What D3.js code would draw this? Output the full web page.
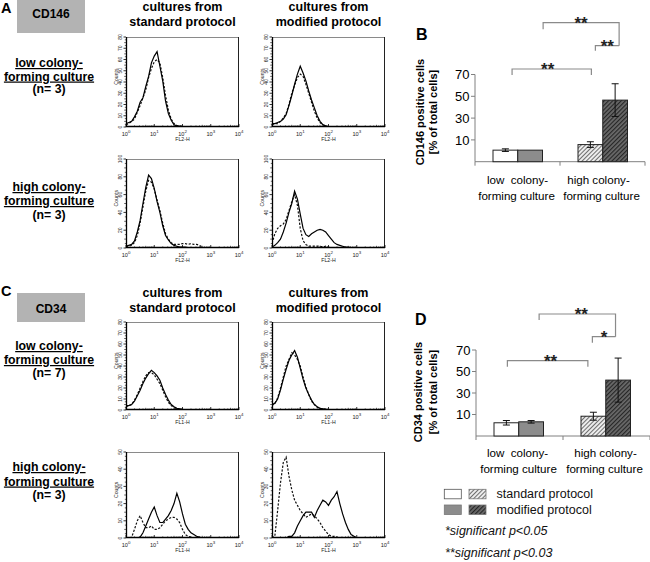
<!DOCTYPE html>
<html><head><meta charset="utf-8">
<script src="https://cdn.jsdelivr.net/npm/d3@7"></script>
<style>
body{margin:0;background:#fff}
svg{display:block}
text{font-family:"Liberation Sans",Arial,Helvetica,sans-serif}
</style>
</head><body>
<svg id="c" width="650" height="562"></svg>
<script>
// ---------- DATA ----------
// flow cytometry histograms: x in decades (log10 of fluorescence), y = counts
const logGrid = [0,0.1,0.2,0.3,0.4,0.5,0.6,0.7,0.8,0.9,1.0,1.1,1.2,1.3,1.4,1.5,1.6,1.7,1.8,1.9,2.0,
                 2.1,2.2,2.3,2.4,2.5,2.6,2.7,2.8,2.9,3.0,3.1,3.2,3.3,3.4,3.5,3.6,3.7,3.8,3.9,4.0];
const decadeTicks = [0,1,2,3,4];

// CD146, low colony-forming culture
const A1_std_solid = [3,4,5,9,14,22,26,36,45,57,63,67,54,41,23,12,6,2,1,0.5,0];
const A1_std_dash  = [2,3,5,7,13,19,26,33,44,52,58,60,57,44,28,15,7,3,1.5,1,0.5,0];
const A1_mod_solid = [3,3,4,5,7,11,19,28,38,47,54,48,41,32,24,17,10,5,2,1,0];
const A1_mod_dash  = [2,3,3,5,8,12,20,30,37,44,47,45,38,30,22,14,8,4,2,1,0];
// CD146, high colony-forming culture
const A2_std_solid = [2,3,4,8,18,31,50,68,82,78,67,52,40,25,14,9,5,3,2,1,1,1,0.5,0];
const A2_std_dash  = [1,2,3,6,14,28,46,64,76,74,66,54,42,28,16,10,6,4,4,4,5,5,4,5,4,4,3,1,0];
const A2_mod_solid = [1,3,6,10,18,28,40,50,64,55,38,22,15,13,16,18,20,21,20,18,14,10,6,4,3,2,1,1,0.5,0];
const A2_mod_dash  = [5,16,22,25,27,32,42,52,60,48,22,8,4,2,2,2,2,2,1,2,1,0.5,0];
// CD34, low colony-forming culture
const C1_std_solid = [4,4,5,8,13,18,24,29,33,36,34,31,27,20,14,9,5,3,1.5,1,0.5,0];
const C1_std_dash  = [3,4,5,9,14,20,26,31,34,34,32,28,24,18,12,7,4,2,1,0.5,0];
const C1_mod_solid = [5,6,10,18,28,37,45,50,54,48,38,28,20,14,9,5,3,1.5,1,0.5,0];
const C1_mod_dash  = [4,6,11,20,30,40,46,52,50,46,40,30,21,14,8,5,2.5,1.5,1,0.5,0];
// CD34, high colony-forming culture
const C2_std_solid = [0,0,0,0,0,0.5,3,7,11,15,18,13,9,9,11,13,16,20,26,21,14,8,5,3,2,1,0.5,0];
const C2_std_dash  = [0,0,0.5,5,10,13,9,6,6,7,5,5,6,8,10,11,12,12,11,9,5,2,1,0.5,0];
const C2_mod_solid = [0,0,0,0,0,0,1,1,3,7,10,13,15,15,15,12,16,19,22,21,19,22,24,27,20,14,9,5,2,1,0];
const C2_mod_dash  = [0,1,16,32,44,47,36,28,22,19,16,14,12,13,14,13,11,9,6,4,2,1,1,0.5,0];

const yTicksA1 = [0,10,20,30,40,50,60,70,80];
const yTicksA2 = [0,20,40,60,80,100];
const yTicksC1 = [0,10,20,30,40,50,60,70,80];
const yTicksC2 = [0,10,20,30,40,50];

// bar charts (% positive cells), values per group [low, high]
const groupLabels = [["low  colony-","forming culture"],["high colony-","forming culture"]];
const protocols = ["standard protocol","modified protocol"];
const cd146Std = [0.6, 5.7],  cd146StdErr = [1.2, 2.6];
const cd146Mod = [0.6, 46.5], cd146ModErr = [0, 15];
const cd34Std  = [2.3, 8.4],  cd34StdErr  = [2.1, 3.7];
const cd34Mod  = [3.2, 42],   cd34ModErr  = [1.2, 20.5];
const barTicks = [10,30,50,70];
const barDomain = [-10,70];
const sigB = ["**","**","**"];
const sigD = ["**","**","*"];
const footnotes = ["*significant p<0.05","**significant p<0.03"];

// ---------- DRAW ----------
const svg = d3.select("#c");
const defs = svg.append("defs");
function hatch(id,bg,fg,sw){
  const p = defs.append("pattern").attr("id",id).attr("patternUnits","userSpaceOnUse")
    .attr("width",3).attr("height",3).attr("patternTransform","rotate(45)");
  p.append("rect").attr("width",3).attr("height",3).attr("fill",bg);
  p.append("line").attr("x1",0.5).attr("y1",0).attr("x2",0.5).attr("y2",3).attr("stroke",fg).attr("stroke-width",sw);
}
hatch("hLight","#ececec","#6e6e6e",1);
hatch("hDark","#6a6a6a","#262626",1.3);
const fills = [["#ffffff","#8c8c8c"],["url(#hLight)","url(#hDark)"]]; // [group][protocol]

// ----- panel letters, gray boxes, column titles, row labels -----
function txt(x,y,s,opt){
  const t = svg.append("text").attr("x",x).attr("y",y).text(s)
    .attr("font-size",opt.fs).attr("text-anchor",opt.anchor||"middle")
    .attr("font-weight",opt.bold?"bold":"normal").attr("fill",opt.fill||"#000");
  if(opt.italic) t.attr("font-style","italic");
  if(opt.underline) t.attr("text-decoration","underline");
  if(opt.pre) t.style("white-space","pre");
  return t;
}
const sections = [
  {letter:"A", ly:13, box:[17,0,68,33], marker:"CD146", my:18,
   t1:11, t2:26,
   rows:[{lines:["low colony-","forming culture","(n= 3)"], ys:[67,80.5,93]},
         {lines:["high colony-","forming culture","(n= 3)"], ys:[191,205,219]}]},
  {letter:"C", ly:296, box:[17,293,68,29], marker:"CD34", my:312.5,
   t1:297, t2:312,
   rows:[{lines:["low colony-","forming culture","(n= 7)"], ys:[350,364,377]},
         {lines:["high colony-","forming culture","(n= 3)"], ys:[471,485.5,499]}]}
];
sections.forEach(s=>{
  txt(1,s.ly,s.letter,{fs:14.5,bold:true,anchor:"start"});
  svg.append("rect").attr("x",s.box[0]).attr("y",s.box[1]).attr("width",s.box[2]).attr("height",s.box[3]).attr("fill","#b3b3b3");
  txt(s.box[0]+s.box[2]/2,s.my,s.marker,{fs:12,bold:true});
  [[182.5,"standard protocol"],[328.5,"modified protocol"]].forEach(([cx,l2])=>{
    txt(cx,s.t1,"cultures from",{fs:12.5,bold:true});
    txt(cx,s.t2,l2,{fs:12.5,bold:true});
  });
  s.rows.forEach(r=>{
    r.lines.forEach((l,i)=>txt(49,r.ys[i],l,{fs:12.3,bold:true,underline:i<2}));
  });
});

// ----- histograms -----
const hists = [
  {x0:126,y0:37, h:90,ticks:yTicksA1,xl:"FL2-H",solid:A1_std_solid,dash:A1_std_dash},
  {x0:272,y0:37, h:90,ticks:yTicksA1,xl:"FL2-H",solid:A1_mod_solid,dash:A1_mod_dash},
  {x0:126,y0:159,h:89,ticks:yTicksA2,xl:"FL2-H",solid:A2_std_solid,dash:A2_std_dash},
  {x0:272,y0:159,h:89,ticks:yTicksA2,xl:"FL2-H",solid:A2_mod_solid,dash:A2_mod_dash},
  {x0:126,y0:322,h:88,ticks:yTicksC1,xl:"FL1-H",solid:C1_std_solid,dash:C1_std_dash},
  {x0:272,y0:322,h:88,ticks:yTicksC1,xl:"FL1-H",solid:C1_mod_solid,dash:C1_mod_dash},
  {x0:126,y0:452,h:86,ticks:yTicksC2,xl:"FL1-H",solid:C2_std_solid,dash:C2_std_dash},
  {x0:272,y0:452,h:86,ticks:yTicksC2,xl:"FL1-H",solid:C2_mod_solid,dash:C2_mod_dash}
];
const HW = 113;
hists.forEach((H,k)=>{
  const g = svg.append("g");
  const x = d3.scaleLog().domain([1,1e4]).range([H.x0,H.x0+HW]);
  const yMax = H.ticks[H.ticks.length-1];
  const y = d3.scaleLinear().domain([0,yMax]).range([H.y0+H.h,H.y0]);
  const yb = H.y0+H.h;
  g.append("line").attr("x1",H.x0).attr("x2",H.x0+HW).attr("y1",H.y0+0.5).attr("y2",H.y0+0.5).attr("stroke","#8a8a8a").attr("stroke-width",1);
  g.append("line").attr("x1",H.x0+HW-0.5).attr("x2",H.x0+HW-0.5).attr("y1",H.y0).attr("y2",yb).attr("stroke","#222").attr("stroke-width",1);
  const cid = "clip"+k;
  defs.append("clipPath").attr("id",cid).append("rect").attr("x",H.x0).attr("y",H.y0-1).attr("width",HW).attr("height",H.h+1);
  const line = d3.line().x((d,i)=>x(Math.pow(10,logGrid[i]))).y(d=>y(d));
  g.append("path").attr("d",line(H.dash)).attr("fill","none").attr("stroke","#111").attr("stroke-width",1.2)
    .attr("stroke-dasharray","2.2,1.6").attr("clip-path",`url(#${cid})`);
  g.append("path").attr("d",line(H.solid)).attr("fill","none").attr("stroke","#000").attr("stroke-width",1.2)
    .attr("clip-path",`url(#${cid})`);
  g.append("line").attr("x1",H.x0+0.5).attr("x2",H.x0+0.5).attr("y1",H.y0).attr("y2",yb).attr("stroke","#000").attr("stroke-width",1.3);
  g.append("line").attr("x1",H.x0).attr("x2",H.x0+HW).attr("y1",yb-0.5).attr("y2",yb-0.5).attr("stroke","#000").attr("stroke-width",1.3);
  const step = H.ticks[1]-H.ticks[0];
  H.ticks.forEach((v,i)=>{
    g.append("line").attr("x1",H.x0-2.5).attr("x2",H.x0).attr("y1",y(v)).attr("y2",y(v)).attr("stroke","#000").attr("stroke-width",0.8);
    if(i<H.ticks.length-1){
      [0.25,0.5,0.75].forEach(f=>{
        const yy=y(v+step*f);
        g.append("line").attr("x1",H.x0-(f===0.5?1.8:1.2)).attr("x2",H.x0).attr("y1",yy).attr("y2",yy).attr("stroke","#000").attr("stroke-width",0.6);
      });
    }
    g.append("text").attr("transform",`translate(${H.x0-4.2},${y(v)}) rotate(-90)`)
      .attr("text-anchor","middle").attr("font-size",5).attr("fill","#222").text(v);
  });
  g.append("text").attr("transform",`translate(${H.x0-8.5},${H.y0+H.h*0.44}) rotate(-90)`)
    .attr("text-anchor","middle").attr("font-size",5.2).attr("fill","#222").text("Counts");
  decadeTicks.forEach(dk=>{
    const xv = x(Math.pow(10,dk));
    g.append("line").attr("x1",xv).attr("x2",xv).attr("y1",yb).attr("y2",yb-3).attr("stroke","#000").attr("stroke-width",0.8);
    if(dk<4){
      [2,3,4,5,6,7,8,9].forEach(m=>{
        const xm = x(m*Math.pow(10,dk));
        g.append("line").attr("x1",xm).attr("x2",xm).attr("y1",yb).attr("y2",yb-(m===5?2.2:1.6)).attr("stroke","#000").attr("stroke-width",0.6);
      });
    }
    const t = g.append("text").attr("x",xv).attr("y",yb+8.6).attr("text-anchor","middle").attr("font-size",5.6).attr("fill","#222");
    t.append("tspan").text("10");
    t.append("tspan").attr("dy",-2.2).attr("font-size",4.4).text(dk);
  });
  g.append("text").attr("x",H.x0+HW/2).attr("y",yb+14.2).attr("text-anchor","middle").attr("font-size",5.2).attr("fill","#222").text(H.xl);
});

// ----- bar charts -----
function barChart(cfg){
  const g = svg.append("g");
  const x = d3.scaleBand().domain([0,1]).range(cfg.xr);
  const xs = d3.scaleBand().domain([0,1]).range([18,67.5]);
  const y = d3.scaleLinear().domain(barDomain).range([cfg.yb,cfg.yt]);
  const base = y(barDomain[0]);
  const axisCol = "#808080";
  g.append("line").attr("x1",cfg.xr[0]).attr("x2",cfg.xr[0]).attr("y1",base).attr("y2",y(barTicks[barTicks.length-1])).attr("stroke",axisCol);
  g.append("line").attr("x1",cfg.xr[0]).attr("x2",cfg.xr[1]).attr("y1",base).attr("y2",base).attr("stroke",axisCol);
  barTicks.forEach(v=>{
    g.append("line").attr("x1",cfg.xr[0]-4).attr("x2",cfg.xr[0]).attr("y1",y(v)).attr("y2",y(v)).attr("stroke",axisCol);
    g.append("text").attr("x",cfg.xr[0]-5.5).attr("y",y(v)+4.6).attr("text-anchor","end").attr("font-size",13).text(v);
  });
  [0,1].forEach(i=>{
    const xx = x(i);
    g.append("line").attr("x1",xx).attr("x2",xx).attr("y1",base).attr("y2",base+4).attr("stroke",axisCol);
  });
  g.append("line").attr("x1",cfg.xr[1]).attr("x2",cfg.xr[1]).attr("y1",base).attr("y2",base+4).attr("stroke",axisCol);
  const series = [[cfg.std,cfg.stdErr],[cfg.mod,cfg.modErr]];
  const centers = [];
  [0,1].forEach(gi=>{
    centers[gi]=[];
    series.forEach(([vals,errs],si)=>{
      const bx = x(gi)+xs(si), bw = xs.bandwidth();
      centers[gi][si] = bx+bw/2;
      g.append("rect").attr("x",bx).attr("y",y(vals[gi])).attr("width",bw).attr("height",base-y(vals[gi]))
        .attr("fill",fills[gi][si]).attr("stroke","#222").attr("stroke-width",1);
    });
  });
  [0,1].forEach(gi=>{
    series.forEach(([vals,errs],si)=>{
      const e = errs[gi]; if(!e) return;
      const cx = centers[gi][si], y1=y(vals[gi]+e), y2=y(vals[gi]-e);
      g.append("line").attr("x1",cx).attr("x2",cx).attr("y1",y1).attr("y2",y2).attr("stroke","#111").attr("stroke-width",1);
      [y1,y2].forEach(yy=>g.append("line").attr("x1",cx-3.5).attr("x2",cx+3.5).attr("y1",yy).attr("y2",yy).attr("stroke","#111").attr("stroke-width",1));
    });
  });
  [0,1].forEach(gi=>{
    const cx = x(gi)+x.bandwidth()/2;
    groupLabels[gi].forEach((l,li)=>{
      g.append("text").attr("x",cx+(cfg.lblDx[gi][li]||0)).attr("y",cfg.lblY[li]).attr("text-anchor","middle")
        .attr("font-size",11.6).style("white-space","pre").text(l);
    });
  });
  cfg.brackets.forEach((b,bi)=>{
    const xa = centers[b.a[0]][b.a[1]]+b.a[2], xb = centers[b.b[0]][b.b[1]]+b.b[2];
    g.append("path").attr("d",`M${xa},${b.dl}V${b.y}H${xb}V${b.dr}`).attr("fill","none").attr("stroke","#8a8a8a").attr("stroke-width",1.2);
    g.append("text").attr("x",(xa+xb)/2+(b.tdx||0)).attr("y",b.y+6.3).attr("text-anchor","middle")
      .attr("font-size",17).attr("font-weight","bold").attr("fill","#222").text(cfg.sig[bi]);
  });
  txt(cfg.letterX,cfg.letterY,cfg.letter,{fs:16,bold:true,anchor:"start"});
  const cy = cfg.titleCy;
  cfg.title.forEach((l,i)=>{
    g.append("text").attr("transform",`translate(${cfg.titleX[i]},${cy}) rotate(-90)`)
      .attr("text-anchor","middle").attr("font-size",11).attr("font-weight","bold").text(l);
  });
}
barChart({
  xr:[475,645], yb:161.7, yt:74.5, std:cd146Std, stdErr:cd146StdErr, mod:cd146Mod, modErr:cd146ModErr,
  lblY:[184,200], lblDx:[[0,-1],[-4,-1]], sig:sigB,
  brackets:[
    {a:[0,0,6.7], b:[1,0,1], y:69, dl:75, dr:75, tdx:-4},
    {a:[0,1,13], b:[1,1,4], y:22.7, dl:29.3, dr:45.7},
    {a:[1,0,5], b:[1,1,4], y:45.7, dl:50.7, dr:45.7}
  ],
  letter:"B", letterX:416, letterY:40,
  title:["CD146 positive cells","[% of total cells]"], titleX:[424,436.5], titleCy:112
});
barChart({
  xr:[476,650], yb:436, yt:350, std:cd34Std, stdErr:cd34StdErr, mod:cd34Mod, modErr:cd34ModErr,
  lblY:[457,473], lblDx:[[-2,-1],[-1,-2]], sig:sigD,
  brackets:[
    {a:[0,0,1], b:[1,0,-5.5], y:360.7, dl:366.7, dr:366.7, tdx:3},
    {a:[0,1,8], b:[1,1,-2.6], y:314, dl:320, dr:336.7, tdx:4},
    {a:[1,0,-1], b:[1,1,-2.6], y:336.7, dl:342.7, dr:336.7}
  ],
  letter:"D", letterX:415, letterY:325,
  title:["CD34 positive cells","[% of total cells]"], titleX:[422,437], titleCy:392
});

// ----- legend -----
const lg = svg.append("g");
const legRows = [{y:489.3, ty:498},{y:505, ty:514}];
protocols.forEach((p,si)=>{
  const r = legRows[si];
  [0,1].forEach(gi=>{
    lg.append("rect").attr("x",gi===0?444.3:469).attr("y",r.y).attr("width",17).attr("height",9.5)
      .attr("fill",fills[gi][si]).attr("stroke",gi===0&&si===0?"#555":"#777").attr("stroke-width",0.8);
  });
  lg.append("text").attr("x",496.5).attr("y",r.ty).attr("font-size",12.5).attr("fill","#111").text(p);
});
footnotes.forEach((f,i)=>{
  lg.append("text").attr("x",445).attr("y",[535,557][i]).attr("font-size",12.5).attr("font-style","italic").attr("fill","#111").text(f);
});
</script>
</body></html>
